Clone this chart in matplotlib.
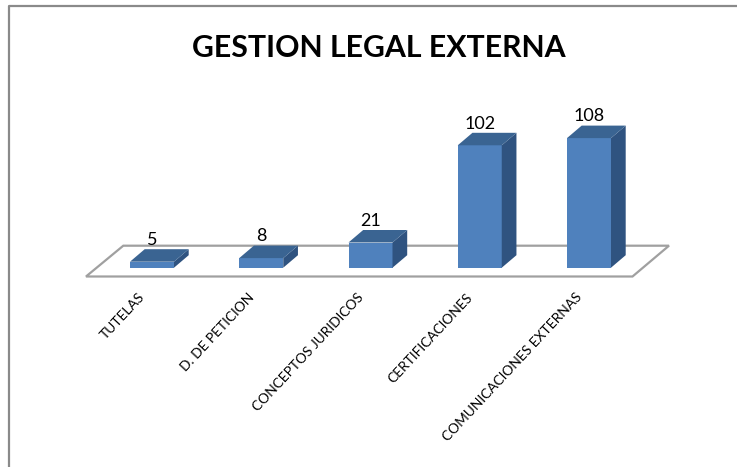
import matplotlib
matplotlib.use('Agg')
import matplotlib.pyplot as plt
from matplotlib.patches import Polygon

# datos de la grafica
categorias = ['TUTELAS', 'D. DE PETICION', 'CONCEPTOS JURIDICOS', 'CERTIFICACIONES', 'COMUNICACIONES EXTERNAS']
valores = [5, 8, 21, 102, 108]

plt.rcParams['font.family'] = ['Lato', 'DejaVu Sans']

W, H = 737, 467
paso_px = 109.25   # px entre categorias
esc_px = 1.2       # px por unidad
x0_px, y0_px = 152, 267.7

fig = plt.figure(figsize=(W/100, H/100), dpi=100)
ax = fig.add_axes([0, 0, 1, 1])
ax.set_xlim(-x0_px/paso_px, (W-x0_px)/paso_px)
ax.set_ylim((y0_px-H)/esc_px, y0_px/esc_px)
ax.axis('off')

ancho = 44/paso_px
dx = 14.7/paso_px
dy = 12.5/esc_px

# piso
def px(x, y):
    return ((x-x0_px)/paso_px, (y0_px-y)/esc_px)

ax.add_patch(Polygon([px(86, 276.5), px(632.5, 276.5), px(669, 245.7), px(123.3, 245.7)],
                     closed=True, fc='white', ec='#a0a0a0', lw=1.6, zorder=1))

# barras
for i, v in enumerate(valores):
    ax.bar(i, v, width=ancho, color='#4f81bd', zorder=3)
    der = i+ancho/2
    izq = i-ancho/2
    ax.add_patch(Polygon([(der, 0), (der+dx, dy), (der+dx, v+dy), (der, v)], fc='#2f5380', zorder=3))
    ax.add_patch(Polygon([(izq, v), (izq+dx, v+dy), (der+dx, v+dy), (der, v)], fc='#3a6492', zorder=3))
    ax.text(i, v+dy+1, str(v), ha='center', va='bottom', fontsize=13, color='black', zorder=4)

# etiquetas de categorias
for i, c in enumerate(categorias):
    yl = px(0, 291)[1]
    ax.text(i-0.125, yl, c, rotation=47, rotation_mode='anchor', ha='right', va='top',
            fontsize=9.9, color='black')

ax.text(*px(379, 48), 'GESTION LEGAL EXTERNA', ha='center', va='center', fontsize=21.8,
        fontweight='bold', color='black')

# marco
ax.plot(*zip(px(9, H), px(9, 6), px(W, 6)), color='#8a8a8a', lw=1.6)

fig.savefig('out.png', dpi=100)
